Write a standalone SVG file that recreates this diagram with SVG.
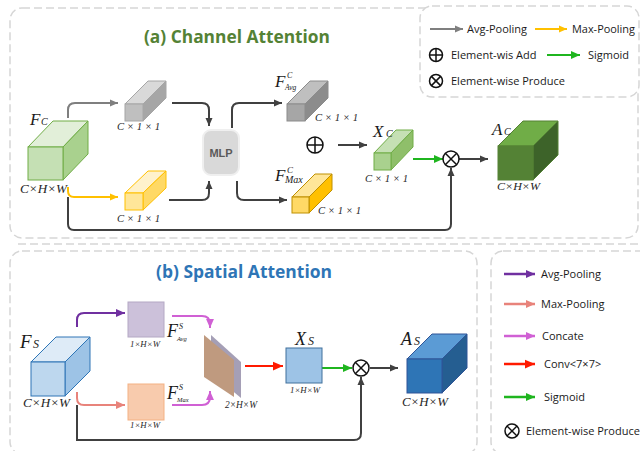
<svg xmlns="http://www.w3.org/2000/svg" width="640" height="451" viewBox="0 0 640 451">
  <style>
    .panel { fill: none; stroke: #d6d6d6; stroke-width: 1.5; stroke-dasharray: 8 4; }
    .legendbox { fill: #ffffff; stroke: #d6d6d6; stroke-width: 1.5; stroke-dasharray: 8 4; }
    .title { font-family: "Open Sans", "Liberation Sans", sans-serif; font-weight: bold; font-size: 18px; }
    .leg { font-family: "Open Sans", "Liberation Sans", sans-serif; font-size: 11px; fill: #1a1a1a; }
    .math { font-family: "Liberation Serif", "DejaVu Serif", serif; font-style: italic; fill: #1a1a1a; }
    .dim { font-family: "Liberation Serif", "DejaVu Serif", serif; font-style: italic; fill: #262626; }
    .conn { fill: none; stroke-width: 2; }
    .op { fill: #ffffff; stroke: #111111; stroke-width: 1.5; }
    .opline { stroke: #111111; stroke-width: 1.5; }
  </style>
  <defs>
    <marker id="ahGray" viewBox="0 0 8 8" refX="8" refY="4" markerWidth="8" markerHeight="8" markerUnits="userSpaceOnUse" orient="auto"><path d="M0,0.5 L8,4 L0,7.5 z" fill="#7f7f7f"/></marker>
    <marker id="ahDark" viewBox="0 0 8 8" refX="8" refY="4" markerWidth="8" markerHeight="8" markerUnits="userSpaceOnUse" orient="auto"><path d="M0,0.5 L8,4 L0,7.5 z" fill="#404040"/></marker>
    <marker id="ahYellow" viewBox="0 0 8 8" refX="8" refY="4" markerWidth="8" markerHeight="8" markerUnits="userSpaceOnUse" orient="auto"><path d="M0,0.5 L8,4 L0,7.5 z" fill="#ffc000"/></marker>
    <marker id="ahGreen" viewBox="0 0 8 8" refX="8" refY="4" markerWidth="9" markerHeight="9" markerUnits="userSpaceOnUse" orient="auto"><path d="M0,0.5 L8,4 L0,7.5 z" fill="#1fb51f"/></marker>
    <marker id="ahPurple" viewBox="0 0 8 8" refX="8" refY="4" markerWidth="9" markerHeight="9" markerUnits="userSpaceOnUse" orient="auto"><path d="M0,0.5 L8,4 L0,7.5 z" fill="#7030a0"/></marker>
    <marker id="ahSalmon" viewBox="0 0 8 8" refX="8" refY="4" markerWidth="9" markerHeight="9" markerUnits="userSpaceOnUse" orient="auto"><path d="M0,0.5 L8,4 L0,7.5 z" fill="#e8837b"/></marker>
    <marker id="ahMagenta" viewBox="0 0 8 8" refX="8" refY="4" markerWidth="9" markerHeight="9" markerUnits="userSpaceOnUse" orient="auto"><path d="M0,0.5 L8,4 L0,7.5 z" fill="#d060d4"/></marker>
    <marker id="ahRed" viewBox="0 0 8 8" refX="8" refY="4" markerWidth="10" markerHeight="10" markerUnits="userSpaceOnUse" orient="auto"><path d="M0,0.5 L8,4 L0,7.5 z" fill="#ff1a00"/></marker>
  </defs>

  <rect width="640" height="451" fill="#ffffff"/>

  <!-- panel frames -->
  <g id="frames">
    <rect class="panel" x="10" y="8" width="628" height="230" rx="12"/>
    <line class="panel" x1="18" y1="244" x2="640" y2="244"/>
    <rect class="panel" x="10" y="251" width="467" height="203" rx="12"/>
    <rect class="panel" x="491" y="251" width="160" height="203" rx="12"/>
  </g>

  <!-- legend, channel attention -->
  <g id="legend-channel">
    <rect class="legendbox" x="420" y="6" width="219" height="91" rx="12"/>
    <line x1="430" y1="29" x2="463" y2="29" stroke="#7f7f7f" stroke-width="2" marker-end="url(#ahGray)"/>
    <text class="leg" x="467" y="33">Avg-Pooling</text>
    <line x1="535" y1="29" x2="567" y2="29" stroke="#ffc000" stroke-width="2" marker-end="url(#ahYellow)"/>
    <text class="leg" x="572" y="33" textLength="63" lengthAdjust="spacingAndGlyphs">Max-Pooling</text>
    <circle class="op" cx="436" cy="55" r="6.5"/>
    <line class="opline" x1="429.5" y1="55" x2="442.5" y2="55"/>
    <line class="opline" x1="436" y1="48.5" x2="436" y2="61.5"/>
    <text class="leg" x="451" y="59">Element-wis Add</text>
    <line x1="547" y1="55" x2="580" y2="55" stroke="#1fb51f" stroke-width="2" marker-end="url(#ahGreen)"/>
    <text class="leg" x="588" y="59">Sigmoid</text>
    <circle class="op" cx="436" cy="81" r="6.5"/>
    <line class="opline" x1="431.4" y1="76.4" x2="440.6" y2="85.6"/>
    <line class="opline" x1="440.6" y1="76.4" x2="431.4" y2="85.6"/>
    <text class="leg" x="451" y="85">Element-wise Produce</text>
  </g>

  <!-- legend, spatial attention -->
  <g id="legend-spatial">
    <line x1="504" y1="274" x2="535" y2="274" stroke="#7030a0" stroke-width="2.5" marker-end="url(#ahPurple)"/>
    <text class="leg" x="541" y="278">Avg-Pooling</text>
    <line x1="504" y1="304" x2="535" y2="304" stroke="#e8837b" stroke-width="2.5" marker-end="url(#ahSalmon)"/>
    <text class="leg" x="541" y="308">Max-Pooling</text>
    <line x1="504" y1="336" x2="535" y2="336" stroke="#d060d4" stroke-width="2.5" marker-end="url(#ahMagenta)"/>
    <text class="leg" x="542" y="340">Concate</text>
    <line x1="504" y1="364" x2="535" y2="364" stroke="#ff1a00" stroke-width="2.5" marker-end="url(#ahRed)"/>
    <text class="leg" x="544" y="368">Conv&lt;7×7&gt;</text>
    <line x1="504" y1="397" x2="535" y2="397" stroke="#1fb51f" stroke-width="2.5" marker-end="url(#ahGreen)"/>
    <text class="leg" x="544" y="401">Sigmoid</text>
    <circle class="op" cx="512" cy="431" r="7"/>
    <line class="opline" x1="507" y1="426" x2="517" y2="436"/>
    <line class="opline" x1="517" y1="426" x2="507" y2="436"/>
    <text class="leg" x="526" y="435">Element-wise Produce</text>
  </g>

  <!-- titles -->
  <text class="title" x="237" y="43" text-anchor="middle" fill="#548235" textLength="186" lengthAdjust="spacingAndGlyphs">(a) Channel Attention</text>
  <text class="title" x="244" y="278" text-anchor="middle" fill="#2e75b6" textLength="176" lengthAdjust="spacingAndGlyphs">(b) Spatial Attention</text>

  <!-- connectors -->
  <g id="connectors">
    <!-- channel attention -->
    <path class="conn" stroke="#7f7f7f" d="M68,118 V110 Q68,103 75,103 H118" marker-end="url(#ahGray)"/>
    <path class="conn" stroke="#ffc000" d="M68,187 V191 Q68,197 74,197 H118" marker-end="url(#ahYellow)"/>
    <path class="conn" stroke="#404040" d="M68,197 V224 Q68,230 74,230 H445 Q451,230 451,224 V168" marker-end="url(#ahDark)"/>
    <path class="conn" stroke="#404040" d="M172,103 H202 Q209,103 209,110 V126" marker-end="url(#ahDark)"/>
    <path class="conn" stroke="#404040" d="M169,200 H202 Q209,200 209,193 V181" marker-end="url(#ahDark)"/>
    <path class="conn" stroke="#404040" d="M232,128 V110 Q232,103 239,103 H282" marker-end="url(#ahDark)"/>
    <path class="conn" stroke="#404040" d="M237,181 V193 Q237,200 244,200 H287" marker-end="url(#ahDark)"/>
    <path class="conn" stroke="#404040" d="M338,145 H367" marker-end="url(#ahDark)"/>
    <path class="conn" stroke="#1fb51f" d="M413,159 H443" marker-end="url(#ahGreen)"/>
    <path class="conn" stroke="#404040" d="M459,159 H488" marker-end="url(#ahDark)"/>
    <!-- spatial attention -->
    <path class="conn" stroke="#7030a0" stroke-width="2.5" d="M77,327 V320 Q77,313 84,313 H125" marker-end="url(#ahPurple)"/>
    <path class="conn" stroke="#e8837b" stroke-width="2.5" d="M77,392 V398 Q77,405 84,405 H125" marker-end="url(#ahSalmon)"/>
    <path class="conn" stroke="#404040" d="M77,405 V440 H354 Q361,440 361,433 V377" marker-end="url(#ahDark)"/>
    <path class="conn" stroke="#d060d4" stroke-width="2.5" d="M172,316 H202 Q210,316 210,324 V328" marker-end="url(#ahMagenta)"/>
    <path class="conn" stroke="#d060d4" stroke-width="2.5" d="M172,405 H202 Q210,405 210,397 V391" marker-end="url(#ahMagenta)"/>
    <path class="conn" stroke="#ff1a00" stroke-width="3" d="M245,366 H283" marker-end="url(#ahRed)"/>
    <path class="conn" stroke="#1fb51f" stroke-width="2.5" d="M322,368 H352" marker-end="url(#ahGreen)"/>
    <path class="conn" stroke="#404040" d="M370,368 H398" marker-end="url(#ahDark)"/>
  </g>

  <!-- input feature Fc -->
  <g id="Fc">
    <polygon points="28,147 53,121 88,121 63,147" fill="#e2efd9" stroke="#70ad47" stroke-width="1"/>
    <polygon points="63,147 88,121 88,154 63,180" fill="#a9d18e" stroke="#70ad47" stroke-width="1"/>
    <rect x="28" y="147" width="35" height="33" fill="#c5e0b4" stroke="#70ad47" stroke-width="1"/>
    <text class="math" x="30" y="125" font-size="17">F</text>
    <text class="math" x="41" y="125" font-size="10">C</text>
    <text class="dim" x="20" y="193" font-size="13" textLength="47" lengthAdjust="spacingAndGlyphs">C×H×W</text>
  </g>

  <!-- avg-pooled vector -->
  <g id="avgpool-c">
    <polygon points="125,104 148,81 166,81 143,104" fill="#d9d9d9" stroke="#a6a6a6" stroke-width="1"/>
    <polygon points="143,104 166,81 166,98 143,121" fill="#a6a6a6" stroke="#a6a6a6" stroke-width="1"/>
    <rect x="125" y="104" width="18" height="17" fill="#bfbfbf" stroke="#a6a6a6" stroke-width="1"/>
    <text class="dim" x="117" y="130" font-size="11" textLength="43" lengthAdjust="spacingAndGlyphs">C × 1 × 1</text>
  </g>

  <!-- max-pooled vector -->
  <g id="maxpool-c">
    <polygon points="125,193 148,171 166,171 143,193" fill="#fff2cc" stroke="#ffc000" stroke-width="1"/>
    <polygon points="143,193 166,171 166,188 143,210" fill="#ffd966" stroke="#ffc000" stroke-width="1"/>
    <rect x="125" y="193" width="18" height="17" fill="#ffe699" stroke="#ffc000" stroke-width="1"/>
    <text class="dim" x="117" y="222" font-size="11" textLength="43" lengthAdjust="spacingAndGlyphs">C × 1 × 1</text>
  </g>

  <!-- shared MLP -->
  <g id="mlp">
    <rect x="203" y="130" width="36" height="45" rx="8" fill="#d9d9d9" stroke="#efefef" stroke-width="2"/>
    <text x="221" y="157" text-anchor="middle" font-family="Liberation Sans, Arial, sans-serif" font-weight="bold" font-size="11" fill="#595959">MLP</text>
  </g>

  <!-- F^C_Avg -->
  <g id="Fc-avg">
    <polygon points="287,104 310,81 328,81 305,104" fill="#bfbfbf" stroke="#8c8c8c" stroke-width="1"/>
    <polygon points="305,104 328,81 328,98 305,121" fill="#8c8c8c" stroke="#8c8c8c" stroke-width="1"/>
    <rect x="287" y="104" width="18" height="17" fill="#a6a6a6" stroke="#8c8c8c" stroke-width="1"/>
    <text class="math" x="275" y="87" font-size="17">F</text>
    <text class="math" x="287" y="78" font-size="8">C</text>
    <text class="math" x="285" y="90" font-size="7.5">Avg</text>
    <text class="dim" x="315" y="121" font-size="11" textLength="43" lengthAdjust="spacingAndGlyphs">C × 1 × 1</text>
  </g>

  <!-- F^C_Max -->
  <g id="Fc-max">
    <polygon points="292,197 315,174 332,174 309,197" fill="#ffe699" stroke="#bf9000" stroke-width="1"/>
    <polygon points="309,197 332,174 332,190 309,213" fill="#ffc000" stroke="#bf9000" stroke-width="1"/>
    <rect x="292" y="197" width="17" height="16" fill="#ffd966" stroke="#bf9000" stroke-width="1"/>
    <text class="math" x="275" y="181" font-size="17">F</text>
    <text class="math" x="287" y="173" font-size="9">C</text>
    <text class="math" x="285" y="183" font-size="10">Max</text>
    <text class="dim" x="318" y="214" font-size="11" textLength="43" lengthAdjust="spacingAndGlyphs">C × 1 × 1</text>
  </g>

  <!-- element-wise add -->
  <g id="add-c">
    <circle class="op" cx="315" cy="145" r="8"/>
    <line class="opline" x1="307" y1="145" x2="323" y2="145"/>
    <line class="opline" x1="315" y1="137" x2="315" y2="153"/>
  </g>

  <!-- Xc -->
  <g id="Xc">
    <polygon points="374,153 396,130 413,130 391,153" fill="#c5e0b4" stroke="#70ad47" stroke-width="1"/>
    <polygon points="391,153 413,130 413,147 391,170" fill="#8fbf6a" stroke="#70ad47" stroke-width="1"/>
    <rect x="374" y="153" width="17" height="17" fill="#a9d18e" stroke="#70ad47" stroke-width="1"/>
    <text class="math" x="373" y="137" font-size="17">X</text>
    <text class="math" x="386" y="137" font-size="10">C</text>
    <text class="dim" x="365" y="182" font-size="11" textLength="43" lengthAdjust="spacingAndGlyphs">C × 1 × 1</text>
  </g>

  <!-- element-wise product -->
  <g id="mul-c">
    <circle class="op" cx="451" cy="159" r="8"/>
    <line class="opline" x1="445.3" y1="153.3" x2="456.7" y2="164.7"/>
    <line class="opline" x1="456.7" y1="153.3" x2="445.3" y2="164.7"/>
  </g>

  <!-- Ac -->
  <g id="Ac">
    <polygon points="498,146 523,121 558,121 533,146" fill="#70ad47" stroke="#548235" stroke-width="1"/>
    <polygon points="533,146 558,121 558,155 533,180" fill="#3d6329" stroke="#548235" stroke-width="1"/>
    <rect x="498" y="146" width="35" height="34" fill="#548235" stroke="#548235" stroke-width="1"/>
    <text class="math" x="492" y="135" font-size="17">A</text>
    <text class="math" x="504" y="135" font-size="10">C</text>
    <text class="dim" x="497" y="190" font-size="10" textLength="43" lengthAdjust="spacingAndGlyphs">C×H×W</text>
  </g>

  <!-- input feature Fs -->
  <g id="Fs">
    <polygon points="31,362 56,337 90,337 65,362" fill="#deebf7" stroke="#2e75b6" stroke-width="1"/>
    <polygon points="65,362 90,337 90,371 65,396" fill="#9dc3e6" stroke="#2e75b6" stroke-width="1"/>
    <rect x="31" y="362" width="34" height="34" fill="#bdd7ee" stroke="#2e75b6" stroke-width="1"/>
    <text class="math" x="20" y="348" font-size="19">F</text>
    <text class="math" x="33" y="348" font-size="12">S</text>
    <text class="dim" x="23" y="407" font-size="13" textLength="47" lengthAdjust="spacingAndGlyphs">C×H×W</text>
  </g>

  <!-- avg-pooled map -->
  <g id="avgpool-s">
    <rect x="128" y="302" width="36" height="35" fill="#ccc1da" stroke="#b4a8c4" stroke-width="1"/>
    <text class="dim" x="130" y="347" font-size="9" textLength="30" lengthAdjust="spacingAndGlyphs">1×H×W</text>
    <text class="math" x="167" y="337" font-size="18">F</text>
    <text class="math" x="179" y="329" font-size="8">S</text>
    <text class="math" x="177" y="341" font-size="6.5">Avg</text>
  </g>

  <!-- max-pooled map -->
  <g id="maxpool-s">
    <rect x="128" y="384" width="36" height="36" fill="#f8cbad" stroke="#f4b183" stroke-width="1"/>
    <text class="dim" x="130" y="428" font-size="9" textLength="30" lengthAdjust="spacingAndGlyphs">1×H×W</text>
    <text class="math" x="167" y="399" font-size="18">F</text>
    <text class="math" x="179" y="390" font-size="8">S</text>
    <text class="math" x="177" y="402" font-size="6.5">Max</text>
  </g>

  <!-- concatenated maps -->
  <g id="concat">
    <polygon points="211,335 241,362 241,398 211,373" fill="#a59fb6"/>
    <polygon points="204,335 234,360 234,397 204,377" fill="#bf9a7f"/>
    <text class="dim" x="225" y="408" font-size="10" textLength="32" lengthAdjust="spacingAndGlyphs">2×H×W</text>
  </g>

  <!-- Xs -->
  <g id="Xs">
    <rect x="286" y="348" width="36" height="35" fill="#9dc3e6" stroke="#41719c" stroke-width="1"/>
    <text class="math" x="295" y="345" font-size="18">X</text>
    <text class="math" x="308" y="345" font-size="12">S</text>
    <text class="dim" x="290" y="393" font-size="9" textLength="30" lengthAdjust="spacingAndGlyphs">1×H×W</text>
  </g>

  <!-- element-wise product -->
  <g id="mul-s">
    <circle class="op" cx="361" cy="368" r="8"/>
    <line class="opline" x1="355.3" y1="362.3" x2="366.7" y2="373.7"/>
    <line class="opline" x1="366.7" y1="362.3" x2="355.3" y2="373.7"/>
  </g>

  <!-- As -->
  <g id="As">
    <polygon points="407,359 432,334 467,334 442,359" fill="#5b9bd5" stroke="#2f5597" stroke-width="1"/>
    <polygon points="442,359 467,334 467,368 442,393" fill="#255e91" stroke="#2f5597" stroke-width="1"/>
    <rect x="407" y="359" width="35" height="34" fill="#2e75b6" stroke="#2f5597" stroke-width="1"/>
    <text class="math" x="401" y="345" font-size="18">A</text>
    <text class="math" x="414" y="345" font-size="12">S</text>
    <text class="dim" x="402" y="406" font-size="12" textLength="46" lengthAdjust="spacingAndGlyphs">C×H×W</text>
  </g>
</svg>
